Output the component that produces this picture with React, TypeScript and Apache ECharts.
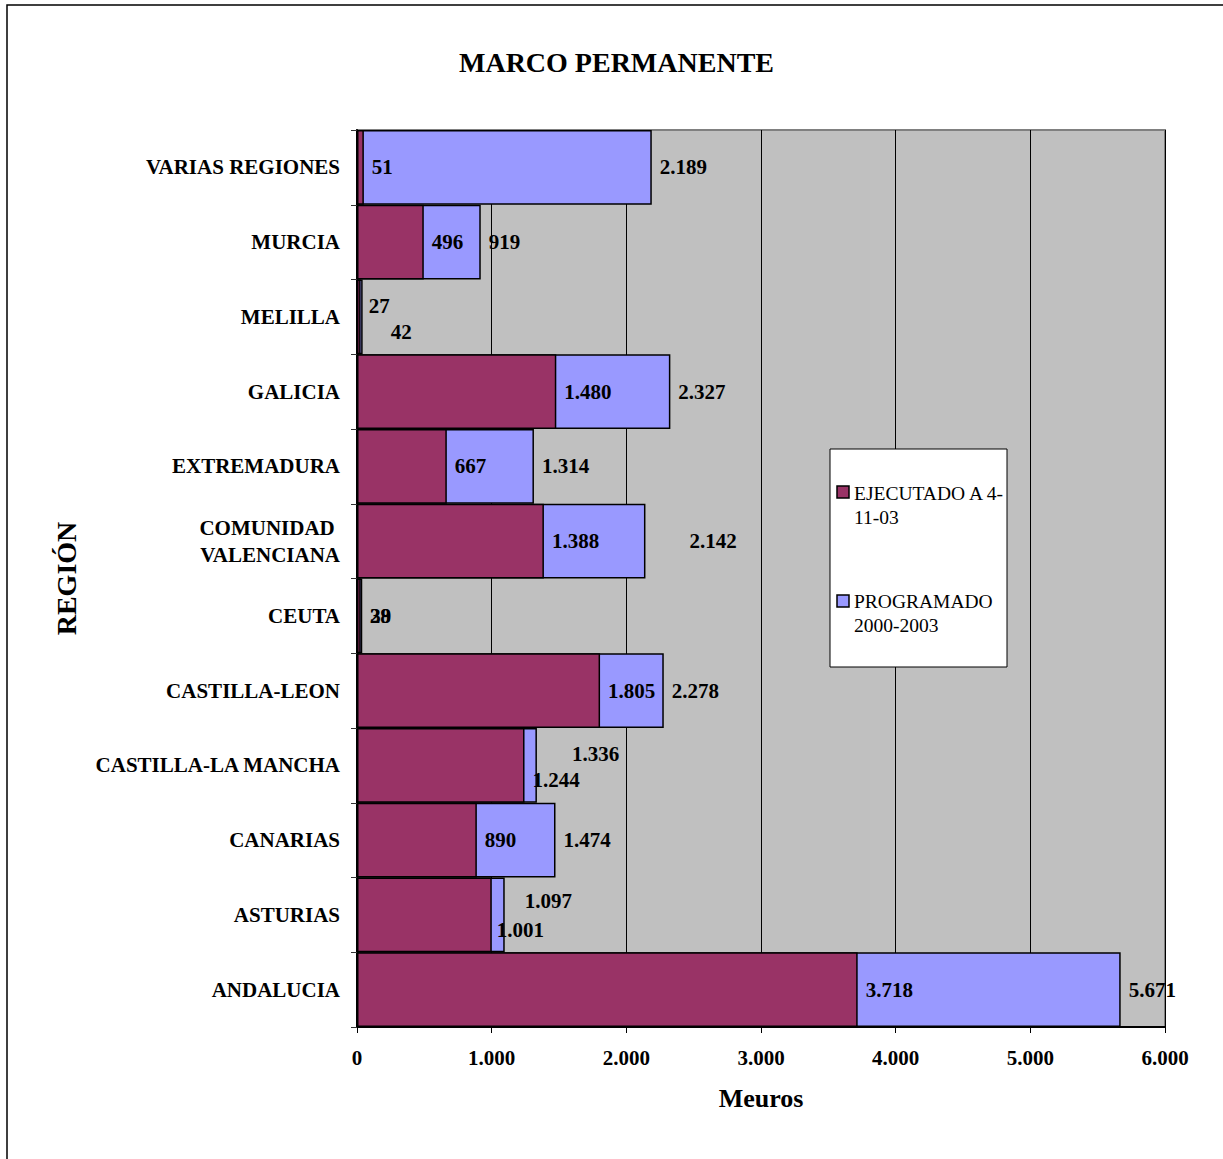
import React, { useEffect, useRef } from "react";
import * as echarts from "echarts";

const regions = [
  "VARIAS REGIONES",
  "MURCIA",
  "MELILLA",
  "GALICIA",
  "EXTREMADURA",
  "COMUNIDAD \nVALENCIANA",
  "CEUTA",
  "CASTILLA-LEON",
  "CASTILLA-LA MANCHA",
  "CANARIAS",
  "ASTURIAS",
  "ANDALUCIA",
];
const ejecutado = [51, 496, 27, 1480, 667, 1388, 28, 1805, 1244, 890, 1001, 3718];
const programado = [2189, 919, 42, 2327, 1314, 2142, 39, 2278, 1336, 1474, 1097, 5671];
const xTicks = [0, 1000, 2000, 3000, 4000, 5000, 6000];

// label nudges (styling only), [dx, dy]
const ejecOffsets: Record<number, number[]> = { 2: [0, -11], 6: [1, 0], 8: [0, 15], 10: [-3, 15] };
const progOffsets: Record<number, number[]> = { 2: [20, 15], 5: [36, 0], 8: [27, -11], 10: [12, -14] };

const FONT = "'Liberation Serif', 'Times New Roman', serif";
const MAROON = "#993366";
const LILAC = "#9999FF";

const fmt = (n: number) =>
  n >= 1000 ? Math.floor(n / 1000) + "." + String(n % 1000).padStart(3, "0") : String(n);

export default function App() {
  const ref = useRef<HTMLDivElement>(null);
  useEffect(() => {
    if (!ref.current) return;
    const chart = echarts.init(ref.current, undefined, { renderer: "svg" });
    const labelBase = {
      show: true,
      position: "right",
      distance: 8,
      fontFamily: FONT,
      fontWeight: "bold",
      fontSize: 21,
      color: "#000",
      formatter: (p: any) => fmt(p.value),
    };
    chart.setOption({
      animation: false,
      backgroundColor: "#fff",
      title: {
        text: "MARCO PERMANENTE",
        left: 459,
        top: 48,
        padding: 0,
        textStyle: { fontFamily: FONT, fontWeight: "bold", fontSize: 28, color: "#000" },
      },
      grid: {
        left: 357,
        top: 130,
        width: 808,
        height: 897,
        show: true,
        backgroundColor: "#C0C0C0",
        borderColor: "#808080",
        borderWidth: 2,
        outerBoundsMode: "none",
        containLabel: false,
      },
      xAxis: {
        type: "value",
        min: xTicks[0],
        max: xTicks[xTicks.length - 1],
        interval: 1000,
        name: "Meuros",
        nameLocation: "middle",
        nameGap: 58,
        nameTextStyle: { fontFamily: FONT, fontWeight: "bold", fontSize: 26, color: "#000" },
        axisLine: { show: true, lineStyle: { color: "#000", width: 2 } },
        axisTick: { show: true, length: 6, lineStyle: { color: "#000", width: 1 } },
        axisLabel: {
          margin: 20,
          fontFamily: FONT,
          fontWeight: "bold",
          fontSize: 21,
          color: "#000",
          formatter: (v: number) => fmt(v),
        },
        splitLine: { show: true, lineStyle: { color: "#000", width: 1 } },
      },
      yAxis: {
        type: "category",
        data: regions,
        inverse: true,
        name: "REGIÓN",
        nameLocation: "middle",
        nameRotate: 90,
        nameGap: 277,
        nameTextStyle: { fontFamily: FONT, fontWeight: "bold", fontSize: 28, color: "#000" },
        axisLine: { show: true, lineStyle: { color: "#000", width: 2 } },
        axisTick: { show: true, length: 6, alignWithLabel: false, lineStyle: { color: "#333", width: 1 } },
        axisLabel: {
          margin: 17,
          fontFamily: FONT,
          fontWeight: "bold",
          fontSize: 21,
          lineHeight: 27,
          color: "#000",
        },
        splitLine: { show: false },
      },
      series: [
        {
          name: "PROGRAMADO 2000-2003",
          type: "bar",
          barGap: "-100%",
          barCategoryGap: 0,
          itemStyle: { color: LILAC, borderColor: "#000", borderWidth: 1.5 },
          label: labelBase,
          data: programado.map((v, i) => ({
            value: v,
            label: progOffsets[i] ? { offset: progOffsets[i] } : undefined,
          })),
        },
        {
          name: "EJECUTADO A 4-11-03",
          type: "bar",
          barGap: "-100%",
          barCategoryGap: 0,
          itemStyle: { color: MAROON, borderColor: "#000", borderWidth: 1.5 },
          label: labelBase,
          data: ejecutado.map((v, i) => ({
            value: v,
            label: ejecOffsets[i] ? { offset: ejecOffsets[i] } : undefined,
          })),
        },
      ],
      graphic: [
        {
          type: "rect",
          z: 100,
          zlevel: 0,
          shape: { x: 7, y: 5, width: 1400, height: 1400 },
          style: { fill: "none", stroke: "#000", lineWidth: 1.5 },
        },
        {
          type: "rect",
          z: 100,
          shape: { x: 830, y: 449, width: 177, height: 218 },
          style: { fill: "#fff", stroke: "#000", lineWidth: 1 },
        },
        {
          type: "rect",
          z: 101,
          shape: { x: 837, y: 486, width: 12, height: 12 },
          style: { fill: MAROON, stroke: "#000", lineWidth: 1.5 },
        },
        {
          type: "text",
          z: 101,
          x: 854,
          y: 481,
          style: {
            text: "EJECUTADO A 4-\n11-03",
            fontFamily: FONT,
            fontSize: 19.5,
            lineHeight: 24,
            fill: "#000",
          },
        },
        {
          type: "rect",
          z: 101,
          shape: { x: 837, y: 595, width: 12, height: 12 },
          style: { fill: LILAC, stroke: "#000", lineWidth: 1.5 },
        },
        {
          type: "text",
          z: 101,
          x: 854,
          y: 589,
          style: {
            text: "PROGRAMADO\n2000-2003",
            fontFamily: FONT,
            fontSize: 19.5,
            lineHeight: 24,
            fill: "#000",
          },
        },
      ],
    });
    return () => chart.dispose();
  }, []);
  return (
    <div
      ref={ref}
      style={{ position: "absolute", left: 0, top: 0, width: 1223, height: 1159 }}
    />
  );
}
